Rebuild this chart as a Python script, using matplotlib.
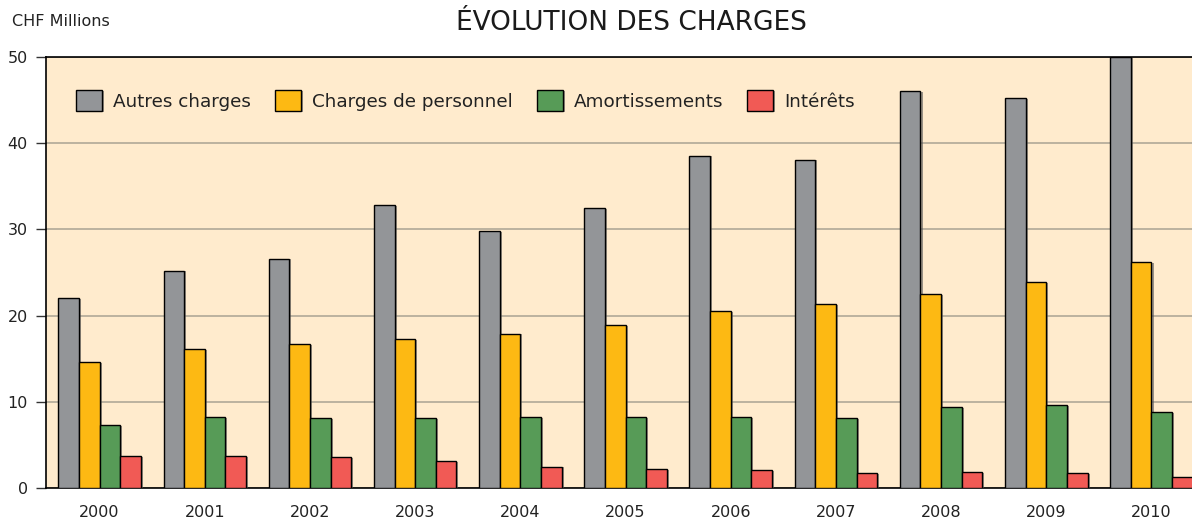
import numpy as np
import matplotlib.pyplot as plt
import matplotlib.patheffects as pe

years = ['2000', '2001', '2002', '2003', '2004', '2005', '2006', '2007', '2008', '2009', '2010']
autres = [22.0, 25.2, 26.6, 32.8, 29.8, 32.45, 38.55, 38.1, 46.05, 45.2, 49.95]
personnel = [14.6, 16.1, 16.7, 17.25, 17.9, 18.87, 20.5, 21.3, 22.47, 23.9, 26.2]
amortissements = [7.3, 8.2, 8.1, 8.08, 8.24, 8.24, 8.24, 8.08, 9.4, 9.6, 8.8]
interets = [3.7, 3.7, 3.55, 3.13, 2.47, 2.2, 2.05, 1.74, 1.82, 1.7, 1.28]

series = [
    ('Autres charges', autres, '#939598'),
    ('Charges de personnel', personnel, '#FDB913'),
    ('Amortissements', amortissements, '#579B57'),
    ('Intérêts', interets, '#F15A55'),
]

plt.rcParams['font.family'] = ['DejaVu Sans']

fig = plt.figure(figsize=(11.92, 5.19), dpi=100)
ax = fig.add_axes([46 / 1192, 31 / 519, 1146 / 1192, 431 / 519])
ax.set_facecolor('#FFEBCD')

x = np.arange(len(years))
w = 0.196
shadow = [pe.SimplePatchShadow(offset=(1.5, -0.5), shadow_rgbFace='#555555', alpha=0.6), pe.Normal()]
for k, (name, vals, col) in enumerate(series):
    bars = ax.bar(x + (k - 1.5) * w, vals, width=w, color=col, edgecolor='black',
                  linewidth=1.0, label=name, zorder=3)
    for b in bars:
        b.set_path_effects(shadow)

ax.set_xlim(-0.509, 10.385)
ax.set_ylim(0, 50)
ax.set_yticks([0, 10, 20, 30, 40, 50])
ax.set_xticks(x)
ax.set_xticklabels(years)
ax.grid(axis='y', color='#b0a898', linewidth=1.2, zorder=1)
ax.tick_params(axis='y', length=7, width=1, color='#333333', labelsize=11.5, pad=6, labelcolor='#222222')
ax.tick_params(axis='x', length=0, labelsize=11.5, pad=12, labelcolor='#222222')

for side in ['left', 'bottom', 'top']:
    ax.spines[side].set_color('black')
    ax.spines[side].set_linewidth(1.2)
ax.spines['right'].set_visible(False)

leg = ax.legend(loc='upper left', bbox_to_anchor=(0.012, 0.962), ncol=4, frameon=False,
                fontsize=13.2, handlelength=1.42, handleheight=1.42, columnspacing=1.3,
                handletextpad=0.6)
for t in leg.get_texts():
    t.set_color('#222222')

fig.text(12 / 1192, 1 - 22 / 519, 'CHF Millions', fontsize=11.5, va='center', ha='left', color='#222222')
fig.text(631 / 1192, 1 - 23 / 519, 'ÉVOLUTION DES CHARGES', fontsize=19, va='center', ha='center', color='#1a1a1a')

fig.savefig('out.png', dpi=100)
